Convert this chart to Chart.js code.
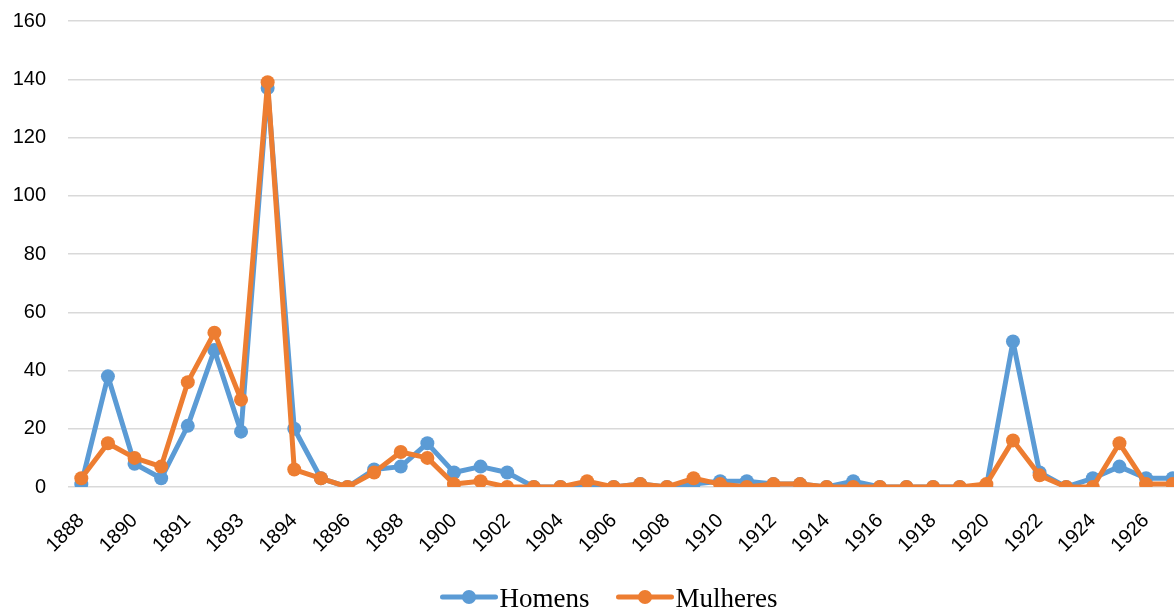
<!DOCTYPE html>
<html>
<head>
<meta charset="utf-8">
<script src="https://cdn.jsdelivr.net/npm/chart.js@4/dist/chart.umd.min.js"></script>
<style>
  html, body { margin: 0; padding: 0; background: #fff; overflow: hidden; }
  #wrap { position: relative; width: 1222px; height: 608px; }
</style>
</head>
<body>
<div id="wrap"><canvas id="chart"></canvas></div>
<script>
const years = ['1888', '1889', '1890', '1891', '1891', '1892', '1893', '1893', '1894', '1895',
    '1896', '1897', '1898', '1899', '1900', '1901', '1902', '1903', '1904', '1905',
    '1906', '1907', '1908', '1909', '1910', '1911', '1912', '1913', '1914', '1915',
    '1916', '1917', '1918', '1919', '1920', '1921', '1922', '1923', '1924', '1925',
    '1926', '1927'];
const homens = [1, 38, 8, 3, 21, 47, 19, 137, 20, 3,
    0, 6, 7, 15, 5, 7, 5, 0, 0, 0,
    0, 1, 0, 1, 2, 2, 1, 1, 0, 2,
    0, 0, 0, 0, 0, 50, 5, 0, 3, 7,
    3, 3];
const mulheres = [3, 15, 10, 7, 36, 53, 30, 139, 6, 3,
    0, 5, 12, 10, 1, 2, 0, 0, 0, 2,
    0, 1, 0, 3, 1, 0, 1, 1, 0, 0,
    0, 0, 0, 0, 1, 16, 4, 0, 0, 15,
    1, 1];
const yTicks = [0, 20, 40, 60, 80, 100, 120, 140, 160];

const blue = '#5B9BD5';
const orange = '#ED7D31';

// legend drawn by hand: line + dot, then the name in a serif font
const lineLegend = {
    id: 'lineLegend',
    afterDraw(chart) {
        const g = chart.ctx;
        const font = '27px "Liberation Serif", "Times New Roman", serif';
        const iconW = 57, gapText = 2, gapItem = 27, y = 597;
        g.save();
        g.font = font;
        const items = chart.data.datasets.map(ds => ({
            label: ds.label, color: ds.borderColor, w: g.measureText(ds.label).width
        }));
        let total = 0;
        items.forEach((it, i) => { total += iconW + gapText + it.w + (i ? gapItem : 0); });
        let x = chart.width / 2 - 2 - total / 2;
        items.forEach(it => {
            g.strokeStyle = it.color;
            g.lineWidth = 5;
            g.lineCap = 'round';
            g.beginPath(); g.moveTo(x + 2, y); g.lineTo(x + iconW - 2, y); g.stroke();
            g.fillStyle = it.color;
            g.beginPath(); g.arc(x + iconW / 2, y, 7, 0, Math.PI * 2); g.fill();
            g.fillStyle = '#000';
            g.textBaseline = 'alphabetic';
            g.fillText(it.label, x + iconW + gapText, 607);
            x += iconW + gapText + it.w + gapItem;
        });
        g.restore();
    }
};

const ctx = document.getElementById('chart').getContext('2d');
new Chart(ctx, {
    type: 'line',
    data: {
        labels: years,
        datasets: [
            {
                label: 'Homens',
                data: homens,
                borderColor: blue,
                backgroundColor: blue,
                borderWidth: 5,
                borderJoinStyle: 'round',
                pointRadius: 7,
                pointBorderWidth: 0,
                order: 1
            },
            {
                label: 'Mulheres',
                data: mulheres,
                borderColor: orange,
                backgroundColor: orange,
                borderWidth: 5,
                borderJoinStyle: 'round',
                pointRadius: 7,
                pointBorderWidth: 0,
                order: 0
            }
        ]
    },
    plugins: [lineLegend],
    options: {
        responsive: true,
        maintainAspectRatio: false,
        animation: false,
        layout: { padding: { left: 0, right: 36, top: 21, bottom: 51 } },
        plugins: {
            tooltip: { enabled: false },
            legend: { display: false }
        },
        scales: {
            x: {
                offset: true,
                grid: { display: false },
                border: { display: false },
                afterFit: function(s) { s.height = 70; },
                ticks: {
                    autoSkip: false,
                    maxRotation: 45,
                    minRotation: 45,
                    padding: 14,
                    color: '#000',
                    font: { family: 'Liberation Sans', size: 20 },
                    callback: function(v, i) { return i % 2 === 0 ? years[i] : ''; }
                }
            },
            y: {
                min: 0,
                max: 160,
                afterBuildTicks: function(axis) { axis.ticks = yTicks.map(v => ({ value: v })); },
                afterFit: function(s) { s.width = 68; s.paddingTop = 12; s.paddingBottom = 0; },
                grid: { color: '#D9D9D9', lineWidth: 1.5, drawTicks: false },
                border: { display: false },
                ticks: {
                    padding: 22,
                    color: '#000',
                    font: { family: 'Liberation Sans', size: 20 }
                }
            }
        }
    }
});
</script>
</body>
</html>
